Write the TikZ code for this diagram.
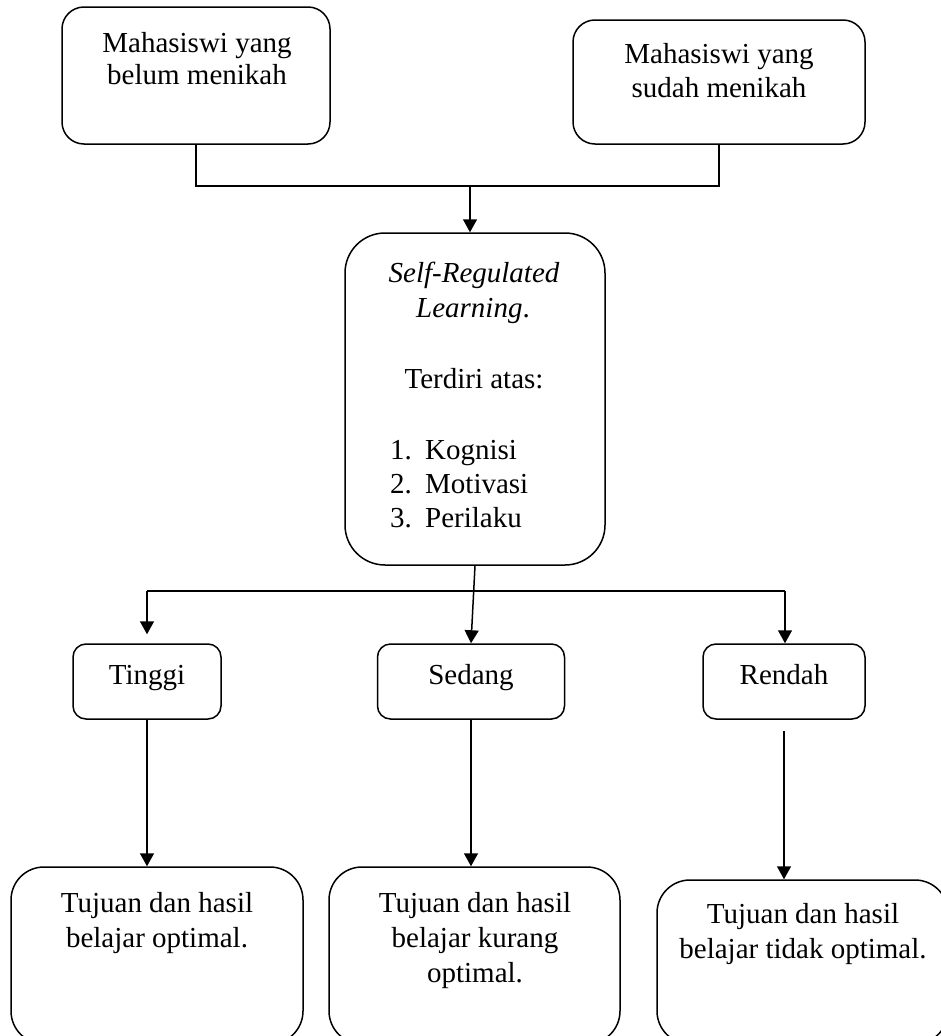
\documentclass[tikz,border=0pt]{standalone}
\usepackage{fontspec}
\setmainfont{Liberation Serif}
\usetikzlibrary{arrows.meta}
\begin{document}
\begin{tikzpicture}[x=1pt,y=-1pt,
  box/.style={draw, line width=1.5pt, inner sep=0pt},
  txt/.style={font=\fontsize{29}{34}\selectfont, inner sep=0pt, anchor=base},
  ltxt/.style={font=\fontsize{29}{34}\selectfont, inner sep=0pt, anchor=base west},
  arr/.style={line width=1.5pt, -{Triangle[length=13pt,width=14pt]}},
  ln/.style={line width=1.5pt}]
\useasboundingbox (0,0) rectangle (941,1036);
\clip (0,0) rectangle (941,1036);
% boxes
\node[box, rounded corners=22pt, minimum width=268pt, minimum height=137pt] (lb) at (196,75.5) {};
\node[box, rounded corners=22pt, minimum width=292pt, minimum height=124pt] (rb) at (719,82) {};
\node[box, rounded corners=40pt, minimum width=260pt, minimum height=332pt] (mid) at (475,399) {};
\node[box, rounded corners=13pt, minimum width=148pt, minimum height=75pt] (tg) at (147,681.5) {};
\node[box, rounded corners=13pt, minimum width=187pt, minimum height=75pt] (sd) at (471,681.5) {};
\node[box, rounded corners=13pt, minimum width=162pt, minimum height=75pt] (rd) at (784,681.5) {};
\node[box, rounded corners=33pt, minimum width=292pt, minimum height=177pt] (bl) at (157,955.5) {};
\node[box, rounded corners=33pt, minimum width=291pt, minimum height=177pt] (bm) at (474.5,955.5) {};
\node[box, rounded corners=33pt, minimum width=291pt, minimum height=164pt] (br) at (802.5,962) {};
% texts
\node[txt] (lb1) at (197,52) {Mahasiswi yang};
\node[txt] (lb2) at (197,84) {belum menikah};
\node[txt] (rb1) at (719,63) {Mahasiswi yang};
\node[txt] (rb2) at (719,97) {sudah menikah};
\node[txt] (m1) at (474,282) {\itshape Self-Regulated};
\node[txt] (m2) at (473,317) {{\itshape Learning}.};
\node[txt] (m3) at (474,388) {Terdiri atas:};
\node[ltxt] (m4) at (390,459) {\makebox[35pt][l]{1.}Kognisi};
\node[ltxt] (m5) at (390,493) {\makebox[35pt][l]{2.}Motivasi};
\node[ltxt] (m6) at (390,527) {\makebox[35pt][l]{3.}Perilaku};
\node[txt] (tgt) at (147,684) {Tinggi};
\node[txt] (sdt) at (471,684) {Sedang};
\node[txt] (rdt) at (784,684) {Rendah};
\node[txt] (bl1) at (157,912) {Tujuan dan hasil};
\node[txt] (bl2) at (157,947) {belajar optimal.};
\node[txt] (bm1) at (475,912) {Tujuan dan hasil};
\node[txt] (bm2) at (475,947) {belajar kurang};
\node[txt] (bm3) at (475,982) {optimal.};
\node[txt] (br1) at (803,923) {Tujuan dan hasil};
\node[txt] (br2) at (803,958) {belajar tidak optimal.};
% connectors
\coordinate (j) at (470,186);
\draw[ln] (lb.south) |- (j) -| (rb.south);
\draw[arr] (j) -- (j |- mid.north);
\coordinate (sl) at (147,591);
\coordinate (sr) at (785,591);
\draw[ln] (sl) -- (sr);
\draw[arr] (sl) -- ([yshift=9pt]tg.north);
\draw[arr] (mid.south) -- (sd.north);
\draw[arr] (sr) -- (sr |- rd.north);
\draw[arr] (tg.south) -- (tg.south |- bl.north);
\draw[arr] (sd.south) -- (sd.south |- bm.north);
\draw[arr] ([yshift=-11pt]rd.south) -- (rd.south |- br.north);
\end{tikzpicture}
\end{document}
